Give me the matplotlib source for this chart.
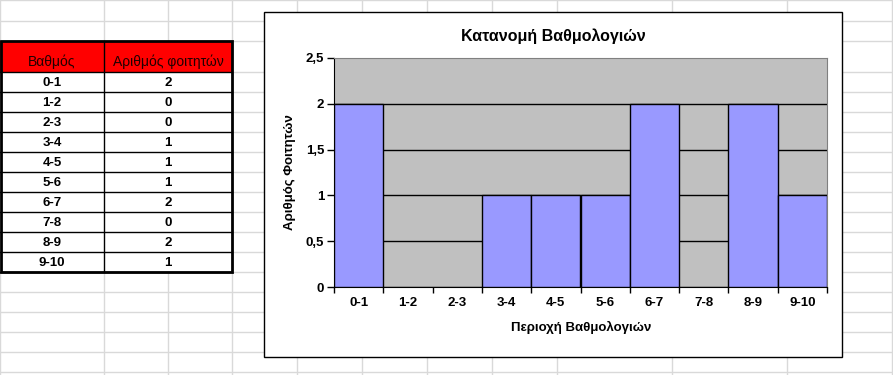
import matplotlib.pyplot as plt
from matplotlib.patches import Rectangle
from matplotlib.ticker import FixedLocator, FuncFormatter
import numpy as np

plt.rcParams['font.family'] = ['Liberation Sans', 'DejaVu Sans']

# Data
grade_ranges = ['0-1', '1-2', '2-3', '3-4', '4-5', '5-6', '6-7', '7-8', '8-9', '9-10']
student_counts = [2, 0, 0, 1, 1, 1, 2, 0, 2, 1]
header_labels = ['Βαθμός', 'Αριθμός φοιτητών']
chart_title = 'Κατανομή Βαθμολογιών'
x_title = 'Περιοχή Βαθμολογιών'
y_title = 'Αριθμός Φοιτητών'
y_ticks = [0, 0.5, 1, 1.5, 2, 2.5]

W, H = 893, 375
fig = plt.figure(figsize=(W / 100, H / 100), dpi=100)

# Spreadsheet background in pixel coordinates
sheet = fig.add_axes([0, 0, 1, 1])
sheet.set_xlim(0, W)
sheet.set_ylim(H, 0)
sheet.axis('off')

col_lines = [0, 104, 168, 232, 297, 362, 427, 492, 557, 672, 787, 892]
row_lines = [0, 21, 41, 72] + list(range(92, 374, 20))
grid_col = '#d9d9d9'
for x in col_lines:
    sheet.plot([x, x], [0, H], color=grid_col, lw=1, zorder=1)
for y in row_lines:
    sheet.plot([0, W], [y, y], color=grid_col, lw=1, zorder=1)

# Table
tx0, tx1, tx2 = 0, 104, 232
ty0, ty1 = 41, 72
row_h = 20
ty_end = ty1 + row_h * len(grade_ranges)
sheet.add_patch(Rectangle((tx0, ty0), tx2 - tx0, ty1 - ty0, facecolor='#ff0000',
                          edgecolor='none', zorder=2))
sheet.add_patch(Rectangle((tx0, ty1), tx2 - tx0, ty_end - ty1, facecolor='white',
                          edgecolor='none', zorder=2))
for i in range(len(grade_ranges) + 1):
    y = ty1 + i * row_h
    sheet.plot([tx0, tx2], [y, y], color='black', lw=1, zorder=3)
sheet.plot([tx1, tx1], [ty0, ty_end], color='black', lw=1, zorder=3)
sheet.add_patch(Rectangle((tx0 + 1, ty0), tx2 - tx0 - 1, ty_end - ty0, facecolor='none',
                          edgecolor='black', lw=2, zorder=4))

sheet.text((tx0 + tx1) / 2, ty1 - 3, header_labels[0], ha='center', va='bottom',
           fontsize=10, color='#200000', zorder=5)
sheet.text((tx1 + tx2) / 2, ty1 - 3, header_labels[1], ha='center', va='bottom',
           fontsize=10, color='#200000', zorder=5)
for i, (g, c) in enumerate(zip(grade_ranges, student_counts)):
    yc = ty1 + i * row_h + row_h / 2 + 1
    sheet.text((tx0 + tx1) / 2, yc, g, ha='center', va='center',
               fontsize=9.5, fontweight='bold', zorder=5)
    sheet.text((tx1 + tx2) / 2, yc, str(c), ha='center', va='center',
               fontsize=9.5, fontweight='bold', zorder=5)

# Chart frame
sheet.add_patch(Rectangle((264, 12), 842 - 264, 357 - 12, facecolor='white',
                          edgecolor='black', lw=1, zorder=6))
sheet.text(553, 36, chart_title, ha='center', va='center', fontsize=11.5,
           fontweight='bold', zorder=7)
sheet.text(581, 327, x_title, ha='center', va='center', fontsize=9.5,
           fontweight='bold', zorder=7)
sheet.text(290, 172, y_title, ha='center', va='center', fontsize=9.5,
           fontweight='bold', rotation=90, zorder=7)

# Plot area
px0, px1, py0, py1 = 334, 827, 58, 287
ax = fig.add_axes([px0 / W, 1 - py1 / H, (px1 - px0) / W, (py1 - py0) / H], zorder=10)
ax.set_facecolor('#c0c0c0')
x = np.arange(len(grade_ranges))
ax.bar(x, student_counts, width=1.0, color='#9999ff', edgecolor='black', lw=1, zorder=3)
for yv in y_ticks[1:-1]:
    ax.axhline(yv, color='black', lw=1, zorder=1)
ax.set_xlim(-0.5, len(grade_ranges) - 0.5)
ax.set_ylim(0, 2.5)

ax.xaxis.set_major_locator(FixedLocator(np.arange(len(grade_ranges) + 1) - 0.5))
ax.xaxis.set_major_formatter(FuncFormatter(lambda v, p: ''))
ax.xaxis.set_minor_locator(FixedLocator(x))
ax.set_xticklabels(grade_ranges, minor=True)
ax.tick_params(axis='x', which='major', length=4, width=1, direction='out')
ax.tick_params(axis='x', which='minor', length=0, pad=7, labelsize=9.5)
ax.set_yticks(y_ticks)
ax.set_yticklabels([f'{v:g}'.replace('.', ',') for v in y_ticks])
ax.tick_params(axis='y', length=5, width=1, direction='out', labelsize=9.5, pad=2)
for lab in ax.get_xticklabels(minor=True) + ax.get_yticklabels():
    lab.set_fontweight('bold')

for side in ['top', 'right']:
    ax.spines[side].set_color('#808080')
for side in ['left', 'bottom']:
    ax.spines[side].set_color('black')

fig.savefig('out.png', dpi=100)
